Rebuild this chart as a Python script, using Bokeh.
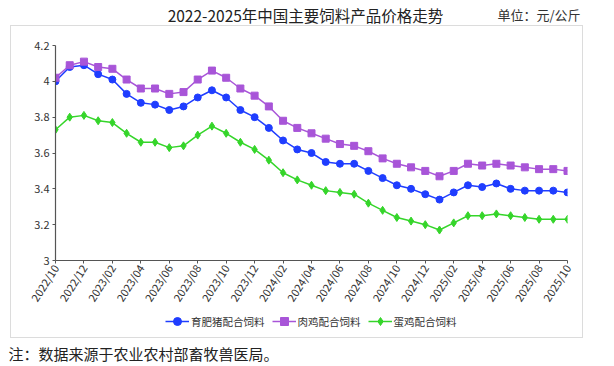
from bokeh.plotting import figure
from bokeh.layouts import column
from bokeh.models import (FixedTicker, NumeralTickFormatter, Legend, LegendItem,
                          Range1d, ColumnDataSource)
from bokeh.core.properties import value
from bokeh.embed import file_html
from bokeh.resources import INLINE

months = ["2022/10", "2022/11", "2022/12", "2023/01", "2023/02", "2023/03", "2023/04",
          "2023/05", "2023/06", "2023/07", "2023/08", "2023/09", "2023/10", "2023/11",
          "2023/12", "2024/01", "2024/02", "2024/03", "2024/04", "2024/05", "2024/06",
          "2024/07", "2024/08", "2024/09", "2024/10", "2024/11", "2024/12", "2025/01",
          "2025/02", "2025/03", "2025/04", "2025/05", "2025/06", "2025/07", "2025/08",
          "2025/09", "2025/10"]

pig = [4.00, 4.08, 4.09, 4.04, 4.01, 3.93, 3.88, 3.87, 3.84, 3.86, 3.91, 3.95, 3.91,
       3.84, 3.80, 3.74, 3.67, 3.62, 3.60, 3.55, 3.54, 3.54, 3.50, 3.46, 3.42, 3.40,
       3.37, 3.34, 3.38, 3.42, 3.41, 3.43, 3.40, 3.39, 3.39, 3.39, 3.38]
broiler = [4.02, 4.09, 4.11, 4.08, 4.07, 4.01, 3.96, 3.96, 3.93, 3.94, 4.01, 4.06, 4.02,
           3.96, 3.92, 3.86, 3.78, 3.74, 3.71, 3.68, 3.65, 3.64, 3.61, 3.57, 3.54, 3.52,
           3.50, 3.47, 3.50, 3.54, 3.53, 3.54, 3.53, 3.52, 3.51, 3.51, 3.50]
layer = [3.73, 3.80, 3.81, 3.78, 3.77, 3.71, 3.66, 3.66, 3.63, 3.64, 3.70, 3.75, 3.71,
         3.66, 3.62, 3.56, 3.49, 3.45, 3.42, 3.39, 3.38, 3.37, 3.32, 3.28, 3.24, 3.22,
         3.20, 3.17, 3.21, 3.25, 3.25, 3.26, 3.25, 3.24, 3.23, 3.23, 3.23]

series_names = ["育肥猪配合饲料", "肉鸡配合饲料", "蛋鸡配合饲料"]
y_ticks = [3.0, 3.2, 3.4, 3.6, 3.8, 4.0, 4.2]

title_text = "2022-2025年中国主要饲料产品价格走势"
unit_text = "单位：元/公斤"
note_text = "注：数据来源于农业农村部畜牧兽医局。"

FONT = "Noto Sans CJK SC"
colors = ["#1f3dff", "#a855d8", "#35d52a"]
markers = ["circle", "square", "diamond"]
msizes = [7, 7, 8]


def blank(w, h):
    f = figure(width=w, height=h, output_backend="svg", toolbar_location=None,
               x_range=Range1d(0, w), y_range=Range1d(h, 0),
               x_axis_location=None, y_axis_location=None, frame_align=False,
               min_border=0, min_border_left=0, min_border_right=0,
               min_border_top=0, min_border_bottom=0)
    f.outline_line_color = None
    f.grid.grid_line_color = None
    f.title.visible = False
    return f


# header: title and unit
head = blank(614, 25)
head.text(x=[305], y=[14], text=[title_text], text_align="center", text_baseline="middle",
          text_font=value(FONT), text_font_size="15.5px", text_color="#222222")
head.text(x=[580], y=[14], text=[unit_text], text_align="right", text_baseline="middle",
          text_font=value(FONT), text_font_size="13px", text_color="#333333")

# main chart
x = list(range(len(months)))
src = ColumnDataSource(dict(x=x, pig=pig, broiler=broiler, layer=layer))

p = figure(frame_width=512, frame_height=215, output_backend="svg", toolbar_location=None,
           x_range=Range1d(0, len(months) - 1), y_range=Range1d(3.0, 4.2),
           min_border_left=44, min_border_right=15, min_border_top=19, min_border_bottom=0,
           frame_align=False)
p.outline_line_color = None
p.grid.grid_line_color = None
p.title.visible = False

for ax in (p.xaxis[0], p.yaxis[0]):
    ax.axis_line_color = "#555555"
    ax.axis_line_width = 1.2
    ax.major_tick_line_color = "#555555"
    ax.minor_tick_line_color = None
    ax.major_tick_in = 0
    ax.major_tick_out = 3
    ax.major_label_text_font = FONT
    ax.major_label_text_font_size = "11px"
    ax.major_label_text_color = "#333333"

p.yaxis.ticker = FixedTicker(ticks=y_ticks)
p.yaxis.formatter = NumeralTickFormatter(format="0.[0]")
p.yaxis.major_label_standoff = 3

xt = x[::2]
p.xaxis.ticker = FixedTicker(ticks=xt)
p.xaxis.major_label_overrides = {i: months[i] for i in xt}
p.xaxis.major_label_orientation = 1.0
p.xaxis.major_label_standoff = 2

for col, mk, ms, key in zip(colors, markers, msizes, ["pig", "broiler", "layer"]):
    p.line("x", key, source=src, color=col, line_width=1.5)
    p.scatter("x", key, source=src, marker=mk, size=ms, color=col)

# legend strip (inside the bordered box, below the axis); its renderers sit off-range
leg = blank(571, 26)
items = []
for name, col, mk in zip(series_names, colors, markers):
    rl = leg.line(x=[-1000, -990], y=[5, 5], color=col, line_width=1.5)
    rm = leg.scatter(x=[-1000], y=[5], marker=mk, size=10, color=col)
    items.append(LegendItem(label=name, renderers=[rl, rm]))
legend = Legend(items=items, orientation="horizontal", location=(154, 6),
                border_line_color=None, background_fill_alpha=0,
                label_text_font=FONT, label_text_font_size="10.5px",
                label_text_color="#333333", glyph_width=24, glyph_height=20,
                spacing=7, padding=0, margin=0, label_standoff=2, label_height=20)
leg.add_layout(legend, "center")

box = column(p, leg, spacing=0, margin=(0, 0, 0, 10),
             styles={"border": "1px solid #dcdcdc"})

# footer: note
foot = blank(614, 29)
foot.text(x=[8], y=[15], text=[note_text], text_align="left", text_baseline="middle",
          text_font=value(FONT), text_font_size="15px", text_color="#222222")

layout = column(head, box, foot, spacing=0)
open("out.html", "w").write(file_html(layout, INLINE))
